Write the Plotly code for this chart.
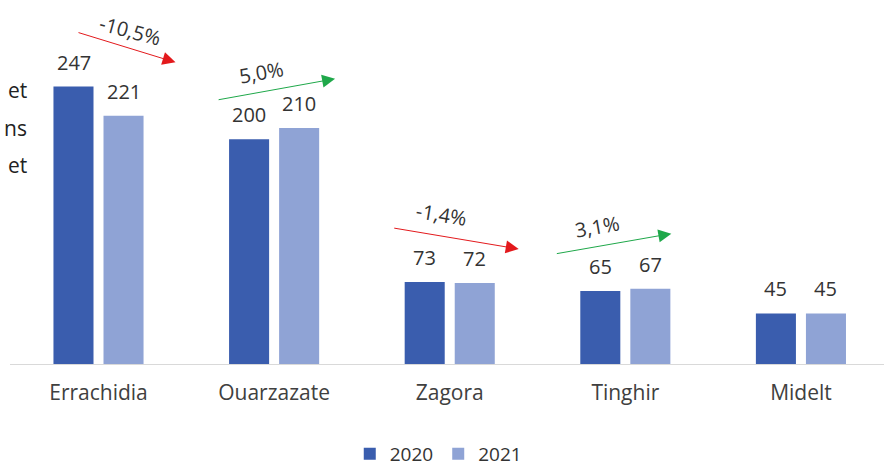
import math
import plotly.graph_objects as go

categories = ["Errachidia", "Ouarzazate", "Zagora", "Tinghir", "Midelt"]
values_2020 = [247, 200, 73, 65, 45]
values_2021 = [221, 210, 72, 67, 45]
years = ["2020", "2021"]
side_fragments = ["et", "ns", "et"]

C2020 = "#3A5DAE"
C2021 = "#8FA3D5"
TXT = "#333333"
FONT = "Open Sans"

# arrow geometry (px): tail dx from centre & height above 2020 bar,
# tip dx from centre & height above 2021 bar, text offset from arrow midpoint
arrow_style = [
    dict(tail=(-36, 54), tip=(77, 53), txt=(11, -17)),
    dict(tail=(-57, 39), tip=(61, 49), txt=(-15, -17)),
    dict(tail=(-57, 54), tip=(69, 34), txt=(-14, -24)),
    dict(tail=(-70, 37), tip=(46, 55), txt=(-16, -17)),
]

W, H = 884, 466
YMAX = 300
T = 26.5
BASE = 364         # baseline in figure px
B = H - BASE
PH = BASE - T
PPU = PH / YMAX
L, R = 10, 0

fig = go.Figure()
x = list(range(len(categories)))
for name, vals, col in [(years[0], values_2020, C2020), (years[1], values_2021, C2021)]:
    fig.add_trace(go.Bar(x=x, y=vals, name=name, marker=dict(color=col, line=dict(width=0)),
                         cliponaxis=False))

ann = []
for i, (a, b) in enumerate(zip(values_2020, values_2021)):
    for v, dx in [(a, -25), (b, 25)]:
        ann.append(dict(x=i, y=v, xref="x", yref="y", text=str(v), showarrow=False,
                        xshift=dx, yshift=9, yanchor="bottom",
                        font=dict(size=20, color=TXT, family=FONT)))

for i, st in enumerate(arrow_style):
    a, b = values_2020[i], values_2021[i]
    pct = (b - a) / a * 100
    color = "#E3191C" if pct < 0 else "#1FA84A"
    tail_x, tail_y = st["tail"][0], -(a * PPU + st["tail"][1])
    tip_x, tip_y = st["tip"][0], -(b * PPU + st["tip"][1])
    ann.append(dict(x=i, y=0, xref="x", yref="y", text="", showarrow=True,
                    axref="pixel", ayref="pixel",
                    ax=tail_x - tip_x, ay=tail_y - tip_y,
                    xshift=tip_x, yshift=-tip_y,
                    arrowhead=2, arrowsize=2.6, arrowwidth=1, arrowcolor=color,
                    standoff=0))
    ang = math.degrees(math.atan2(tip_y - tail_y, tip_x - tail_x))
    mx = (tail_x + tip_x) / 2 + st["txt"][0]
    my = (tail_y + tip_y) / 2 + st["txt"][1]
    label = f"{pct:.1f}%".replace(".", ",")
    ann.append(dict(x=i, y=0, xref="x", yref="y", text=label, showarrow=False,
                    xshift=mx, yshift=-my, textangle=ang,
                    font=dict(size=20, color=TXT, family=FONT)))

for k, t in enumerate(side_fragments):
    fy = 90 + 37.5 * k
    ann.append(dict(x=(29 - L) / (W - L - R), y=(BASE - fy) / PH, xref="paper", yref="paper",
                    text=t, showarrow=False, xanchor="right", yanchor="middle",
                    font=dict(size=21, color="#222222", family=FONT)))

legend_y = (BASE - 454) / PH

fig.update_layout(
    width=W, height=H,
    margin=dict(l=L, r=R, t=T, b=B, autoexpand=False),
    plot_bgcolor="white", paper_bgcolor="white",
    barmode="group", bargap=0.43, bargroupgap=0.2,
    showlegend=True,
    legend=dict(orientation="h", x=0.49, xanchor="center", y=legend_y, yanchor="middle",
                font=dict(size=19, color=TXT, family=FONT), itemwidth=30,
                traceorder="normal"),
    xaxis=dict(tickmode="array", tickvals=x, ticktext=categories, range=[-0.504, 4.473],
               showgrid=False, showline=True, linecolor="#D9D9D9", linewidth=1.2,
               ticks="", ticklen=0, ticklabelstandoff=10,
               tickfont=dict(size=21, color="#404040", family=FONT)),
    yaxis=dict(range=[0, YMAX], visible=False),
    annotations=ann,
)
fig.write_html("out.html", config={"displayModeBar": False},
               post_script="document.body.style.margin='0px';")
